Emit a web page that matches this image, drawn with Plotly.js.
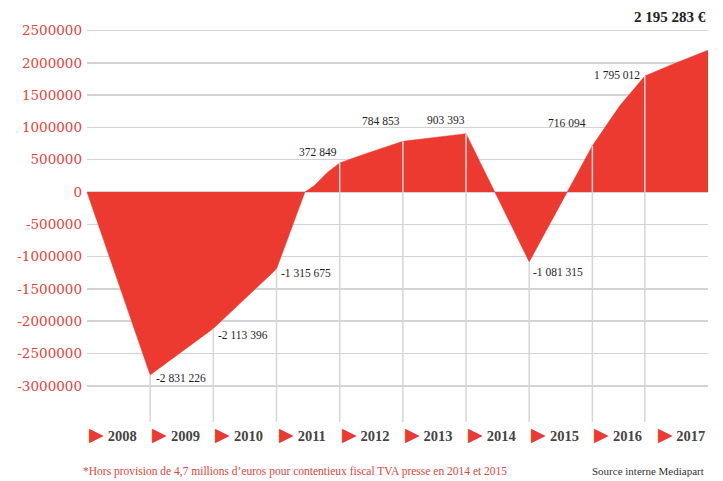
<!DOCTYPE html>
<html>
<head>
<meta charset="utf-8">
<script src="https://cdn.plot.ly/plotly-3.0.1.min.js"></script>
<style>html,body{margin:0;padding:0;background:#fff;}#chart{width:723px;height:481px;}</style>
</head>
<body>
<div id="chart"></div>
<script>
// Cumulative result (euros); x = date in decimal years
const dates  = [2008, 2009, 2010, 2011, 2011.45, 2011.6, 2011.8, 2012, 2012.4, 2013, 2014, 2015, 2016, 2016.43, 2016.83, 2017.3, 2017.83];
const cumul  = [0, -2831226, -2113396, -1190000, 0, 100000, 300000, 450000, 590000, 784853, 903393, -1081315, 716094, 1330000, 1795012, 1990000, 2195283];

// Points that carry a printed value and a vertical rule
const labelIdx  = [1, 2, 3, 7, 9, 10, 11, 12, 14];
const labelText = ['-2 831 226', '-2 113 396', '-1 315 675', '372 849', '784 853', '903 393', '-1 081 315', '716 094', '1 795 012'];
const lastText  = '2 195 283 €';

// Axis labels
const years  = ['2008','2009','2010','2011','2012','2013','2014','2015','2016','2017'];
const yTicks = [2500000, 2000000, 1500000, 1000000, 500000, 0, -500000, -1000000, -1500000, -2000000, -2500000, -3000000];

const footnote = '*Hors provision de 4,7 millions d\u2019euros pour contentieux fiscal TVA presse en 2014 et 2015';
const source   = 'Source interne Mediapart';

const RED = '#ec3a31';
const yRange = [-3560000, 2539000];
const xRange = [dates[0], dates[dates.length - 1]];

// vertical rules from each labelled point down to the bottom of the plot
const vx = [], vy = [];
labelIdx.forEach(i => { vx.push(dates[i], dates[i], null); vy.push(cumul[i], yRange[0], null); });

const traces = [
  { x: dates, y: cumul, type: 'scatter', mode: 'lines', fill: 'tozeroy',
    fillcolor: RED, line: { color: RED, width: 0.5 }, hoverinfo: 'skip' },
  { x: vx, y: vy, type: 'scatter', mode: 'lines',
    line: { color: '#d6d6d6', width: 1.5 }, hoverinfo: 'skip' }
];

// label placement styles (anchor, shifts) per labelled point
const lblStyle = [
  { a: 'left',  dx: 4,  dy: -3 },
  { a: 'left',  dx: 3,  dy: -6 },
  { a: 'left',  dx: 2,  dy: -4 },
  { a: 'right', dx: -1, dy: 11 },
  { a: 'right', dx: -1, dy: 20 },
  { a: 'right', dx: 1,  dy: 14 },
  { a: 'left',  dx: 2,  dy: -10 },
  { a: 'right', dx: -4, dy: 23 },
  { a: 'right', dx: -3, dy: 1 }
];

const annotations = labelIdx.map((i, k) => ({
  x: dates[i], y: cumul[i], xref: 'x', yref: 'y', text: labelText[k], showarrow: false,
  xanchor: lblStyle[k].a, yanchor: 'middle', xshift: lblStyle[k].dx, yshift: lblStyle[k].dy,
  font: { family: 'Liberation Serif', size: 11.5, color: '#1e1e1e' }
}));
annotations.push({
  x: dates[dates.length - 1], y: 1, xref: 'x', yref: 'paper', text: '<b>' + lastText + '</b>',
  showarrow: false, xanchor: 'right', yanchor: 'bottom', yshift: 1,
  font: { family: 'Liberation Serif', size: 15, color: '#222' }
});

// footnote and source, placed in paper coordinates
const W = 723 - 87 - 15, H = 481 - 28 - 59;
annotations.push({
  x: (81 - 87) / W, y: (422 - 471) / H, xref: 'paper', yref: 'paper', text: footnote, showarrow: false,
  xanchor: 'left', yanchor: 'middle',
  font: { family: 'Liberation Serif', size: 11.5, color: '#e2453d' }
});
annotations.push({
  x: (706 - 87) / W, y: (422 - 471) / H, xref: 'paper', yref: 'paper', text: source, showarrow: false,
  xanchor: 'right', yanchor: 'middle',
  font: { family: 'Liberation Serif', size: 11, color: '#333' }
});

const layout = {
  width: 723, height: 481,
  margin: { l: 87, r: 15, t: 28, b: 59 },
  paper_bgcolor: '#fff', plot_bgcolor: '#fff',
  showlegend: false,
  xaxis: {
    range: xRange, showgrid: false, zeroline: false, showline: false, ticks: '',
    tickvals: years.map(y => Number(y) + 0.41),
    ticktext: years.map(y => '<span style="color:' + RED + ';font-size:19px">\u25B6</span> <b>' + y + '</b>'),
    tickfont: { family: 'Liberation Serif', size: 14.5, color: '#444' },
    ticklabelstandoff: 3, fixedrange: true
  },
  yaxis: {
    range: yRange, showgrid: true, gridcolor: '#d3d3d3', gridwidth: 1.5,
    zeroline: false, showline: false, ticks: '',
    tickvals: yTicks, ticktext: yTicks.map(v => String(v)),
    tickfont: { family: 'DejaVu Serif', size: 13.5, color: '#e2453d' },
    ticklabelstandoff: 4, fixedrange: true
  },
  annotations: annotations
};

Plotly.newPlot('chart', traces, layout, { staticPlot: true, displayModeBar: false });
</script>
</body>
</html>
